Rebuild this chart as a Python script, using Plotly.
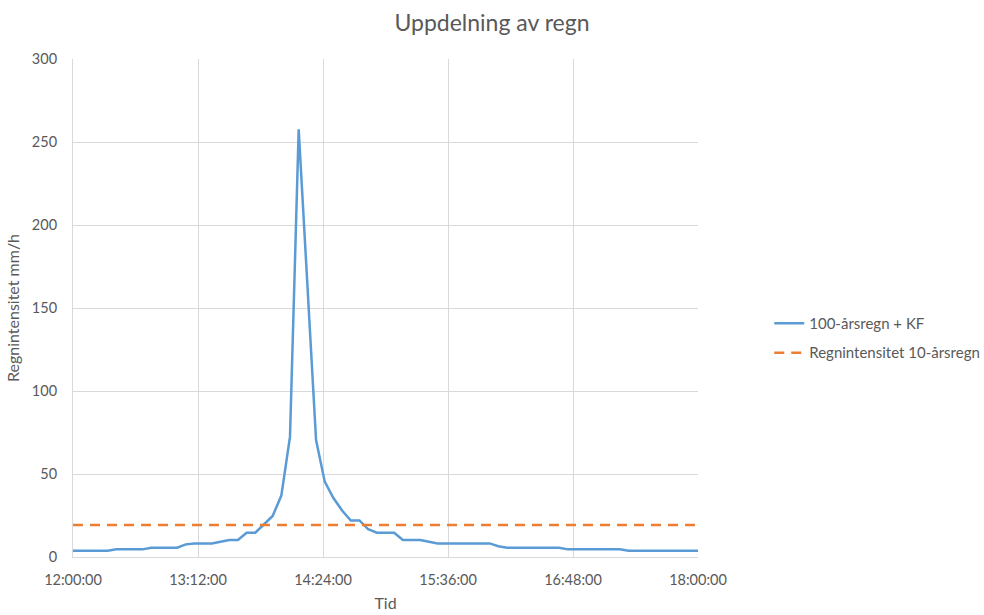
import plotly.graph_objects as go
import pandas as pd

# Rain intensity every 5 minutes, 12:00 - 18:00 (mm/h)
times = pd.date_range("2000-01-01 12:00", "2000-01-01 18:00", freq="5min")
rain_100yr_kf = [
    3.8, 3.8, 3.8, 3.8, 3.8, 4.6, 4.6, 4.6, 4.6, 5.6, 5.6, 5.6,      # 12:00-12:55
    5.6, 7.6, 8.2, 8.2, 8.2, 9.2, 10.2, 10.2, 14.6, 14.6, 19.5, 24.7,  # 13:00-13:55
    37.0, 72.5, 257.6, 164.0, 70.5, 45.4, 35.5, 28.0, 22.0, 22.0, 16.7, 14.6,  # 14:00-14:55
    14.6, 14.6, 10.2, 10.2, 10.2, 9.2, 8.2, 8.2, 8.2, 8.2, 8.2, 8.2,  # 15:00-15:55
    8.2, 6.5, 5.6, 5.6, 5.6, 5.6, 5.6, 5.6, 5.6, 4.6, 4.6, 4.6,      # 16:00-16:55
    4.6, 4.6, 4.6, 4.6, 3.8, 3.8, 3.8, 3.8, 3.8, 3.8, 3.8, 3.8,      # 17:00-17:55
    3.8,                                                              # 18:00
]
rain_10yr_level = 19.3
rain_10yr = [rain_10yr_level] * len(times)

tick_times = pd.date_range("2000-01-01 12:00", "2000-01-01 18:00", freq="72min")
tick_labels = [t.strftime("%H:%M:%S") for t in tick_times]
y_ticks = [0, 50, 100, 150, 200, 250, 300]

font_family = "Lato, 'Open Sans', sans-serif"
text_color = "#595959"
grid_color = "#D9D9D9"

fig = go.Figure()
fig.add_trace(go.Scatter(
    x=times, y=rain_100yr_kf, mode="lines", name="100-årsregn + KF",
    legendgroup="a",
    line=dict(color="#5B9BD5", width=2.5),
))
fig.add_trace(go.Scatter(
    x=times, y=rain_10yr, mode="lines", name="Regnintensitet 10-årsregn",
    legendgroup="b",
    line=dict(color="#ED7D31", width=2.5, dash="10px,7px"),
))

fig.update_layout(
    width=984, height=615,
    margin=dict(l=73, r=286, t=59, b=58, autoexpand=False),
    paper_bgcolor="white", plot_bgcolor="white",
    font=dict(family=font_family, color=text_color, size=14),
    title=dict(text="Uppdelning av regn", x=0.5, xref="container", xanchor="center",
               y=0.963, yanchor="middle", font=dict(size=23, color=text_color)),
    legend=dict(x=1.114, y=0.44, xanchor="left", yanchor="middle",
                font=dict(size=15, color=text_color), tracegroupgap=7,
                bgcolor="rgba(0,0,0,0)"),
    xaxis=dict(
        type="date", automargin=False,
        range=[tick_times[0], tick_times[-1]],
        tickvals=list(tick_times), ticktext=tick_labels,
        tickfont=dict(size=14.5),
        showgrid=True, gridcolor=grid_color, gridwidth=1,
        showline=True, linecolor=grid_color, linewidth=1,
        zeroline=False, ticks="", ticklabelstandoff=10,
        title=dict(text="Tid", standoff=10, font=dict(size=16, color=text_color)),
    ),
    yaxis=dict(
        automargin=False,
        range=[0, 300], tickvals=y_ticks,
        tickfont=dict(size=14.5),
        showgrid=True, gridcolor=grid_color, gridwidth=1,
        showline=True, linecolor=grid_color, linewidth=1,
        zeroline=False, ticks="", ticklabelstandoff=12,
        title=dict(text="Regnintensitet mm/h", standoff=8, font=dict(size=16, color=text_color)),
    ),
)

fig.write_html("out.html")
